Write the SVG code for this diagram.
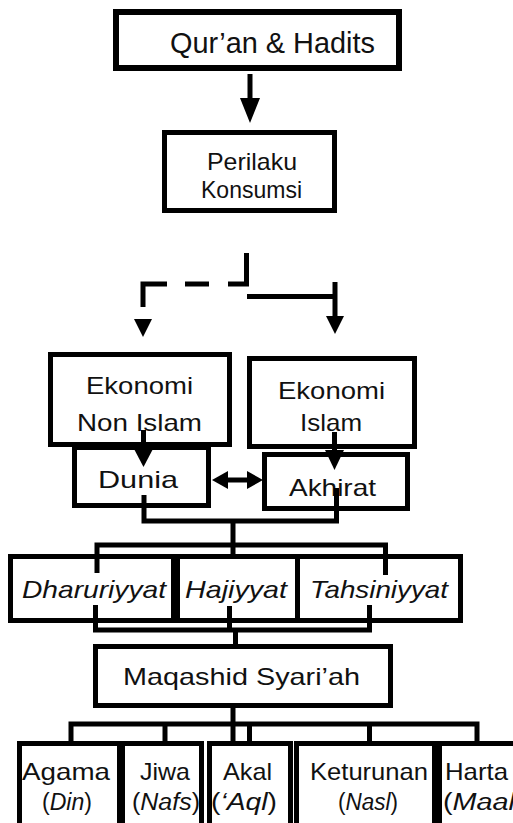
<svg xmlns="http://www.w3.org/2000/svg" width="513" height="823" viewBox="0 0 513 823">
<style>
.box{fill:#fff;stroke:#000;stroke-width:5}
.t{font-family:"Liberation Sans",Arial,sans-serif;font-size:24px;fill:#111;text-anchor:middle}
.s{font-size:23px}
.i{font-style:italic}
.c{fill:none;stroke:#000;stroke-width:5;stroke-linejoin:miter}
.h{fill:#000;stroke:none}
</style>
<rect width="513" height="823" fill="#fff"/>
<g id="quran"><rect class="box" x="116" y="12" width="283" height="56" style="stroke-width:6"/><text class="t" x="272.5" y="53" style="font-size:29px" textLength="205" lengthAdjust="spacingAndGlyphs">Qur’an &amp; Hadits</text></g>
<g id="perilaku"><rect class="box" x="164.5" y="132.5" width="170" height="78"/><text class="t" x="252" y="170" textLength="90" lengthAdjust="spacingAndGlyphs">Perilaku</text><text class="t" x="251.5" y="198" textLength="101" lengthAdjust="spacingAndGlyphs">Konsumsi</text></g>
<g id="nonislam"><rect class="box" x="50.5" y="354.5" width="179" height="90"/><text class="t" x="139.5" y="394" textLength="107" lengthAdjust="spacingAndGlyphs">Ekonomi</text><text class="t" x="139.5" y="431" textLength="125" lengthAdjust="spacingAndGlyphs">Non Islam</text></g>
<g id="islam"><rect class="box" x="249.5" y="358.5" width="165" height="88"/><text class="t" x="331.5" y="399" textLength="107" lengthAdjust="spacingAndGlyphs">Ekonomi</text><text class="t" x="331" y="431" textLength="62" lengthAdjust="spacingAndGlyphs">Islam</text></g>
<g id="dunia"><rect class="box" x="74.5" y="447.5" width="134" height="58"/><text class="t" x="138" y="488" textLength="80" lengthAdjust="spacingAndGlyphs">Dunia</text></g>
<g id="akhirat"><rect class="box" x="264.5" y="454.5" width="143" height="54"/><text class="t" x="332.5" y="496" textLength="87" lengthAdjust="spacingAndGlyphs">Akhirat</text></g>
<g id="dharuriyyat"><rect class="box" x="10.5" y="556.5" width="163" height="64"/><text class="t i" x="94" y="598" textLength="144" lengthAdjust="spacingAndGlyphs">Dharuriyyat</text></g>
<g id="hajiyyat"><rect class="box" x="177.5" y="556.5" width="123" height="64"/><text class="t i" x="236" y="598" textLength="102" lengthAdjust="spacingAndGlyphs">Hajiyyat</text></g>
<g id="tahsiniyyat"><rect class="box" x="297.5" y="556.5" width="163" height="64"/><text class="t i" x="379" y="598" textLength="138" lengthAdjust="spacingAndGlyphs">Tahsiniyyat</text></g>
<g id="maqashid"><rect class="box" x="95.5" y="646.5" width="295" height="59"/><text class="t" x="241.5" y="685" textLength="237" lengthAdjust="spacingAndGlyphs">Maqashid Syari’ah</text></g>
<g id="agama"><rect class="box" x="19.5" y="743.5" width="100" height="100"/><text class="t" x="66" y="780" textLength="88" lengthAdjust="spacingAndGlyphs">Agama</text><text class="t s" x="67" y="810" textLength="50" lengthAdjust="spacingAndGlyphs">(<tspan class="i">Din</tspan>)</text></g>
<g id="jiwa"><rect class="box" x="122.5" y="743.5" width="79" height="100"/><text class="t" x="165" y="780" textLength="50" lengthAdjust="spacingAndGlyphs">Jiwa</text><text class="t s" x="166" y="810" textLength="68" lengthAdjust="spacingAndGlyphs">(<tspan class="i">Nafs</tspan>)</text></g>
<g id="akal"><rect class="box" x="209.5" y="743.5" width="81" height="100"/><text class="t" x="247.5" y="780" textLength="49" lengthAdjust="spacingAndGlyphs">Akal</text><text class="t s" x="244" y="810" textLength="66" lengthAdjust="spacingAndGlyphs">(<tspan class="i">‘Aql</tspan>)</text></g>
<g id="keturunan"><rect class="box" x="296.5" y="743.5" width="138" height="100"/><text class="t" x="369" y="780" textLength="118" lengthAdjust="spacingAndGlyphs">Keturunan</text><text class="t s" x="368" y="810" textLength="60" lengthAdjust="spacingAndGlyphs">(<tspan class="i">Nasl</tspan>)</text></g>
<g id="harta"><rect class="box" x="439.5" y="743.5" width="90" height="100"/><text class="t" x="476.5" y="780" textLength="63" lengthAdjust="spacingAndGlyphs">Harta</text><text class="t s" x="443" y="810" style="text-anchor:start" textLength="72" lengthAdjust="spacingAndGlyphs">(<tspan class="i">Maal</tspan></text></g>
<g id="connectors">
<path class="c" d="M250,74 V100"/><polygon class="h" points="240,98 260,98 250,123"/>
<path class="c" d="M246.5,253 V284 H228"/><path class="c" d="M209,284 H185"/><path class="c" d="M167,284 H143 V307"/>
<polygon class="h" points="134,319 152,319 143,337"/>
<path class="c" d="M247,296.5 H337"/><path class="c" d="M335,282 V318"/><polygon class="h" points="326,316 344,316 335,334"/>
<path class="c" d="M143.5,430 V450"/><polygon class="h" points="133,447 154,447 143.5,467"/>
<path class="c" d="M334.5,432 V452"/><polygon class="h" points="325,450 344,450 334.5,470"/>
<path class="c" d="M226,480 H249"/><polygon class="h" points="212,480 228,471 228,489"/><polygon class="h" points="263,480 247,471 247,489"/>
<path class="c" d="M144,495 V521 H336.5 V488"/><path class="c" d="M233,521 V557"/>
<path class="c" d="M97,573 V545 H385.5 V575"/>
<path class="c" d="M95.5,605 V630 H369.5 V605"/><path class="c" d="M229.5,606 V630"/><path class="c" d="M235.5,630 V648"/>
<path class="c" d="M71,743 V724 H477 V743"/><path class="c" d="M165,724 V743"/><path class="c" d="M233,707 V743"/><path class="c" d="M249.5,724 V743"/><path class="c" d="M369.5,724 V743"/>
</g>
</svg>
